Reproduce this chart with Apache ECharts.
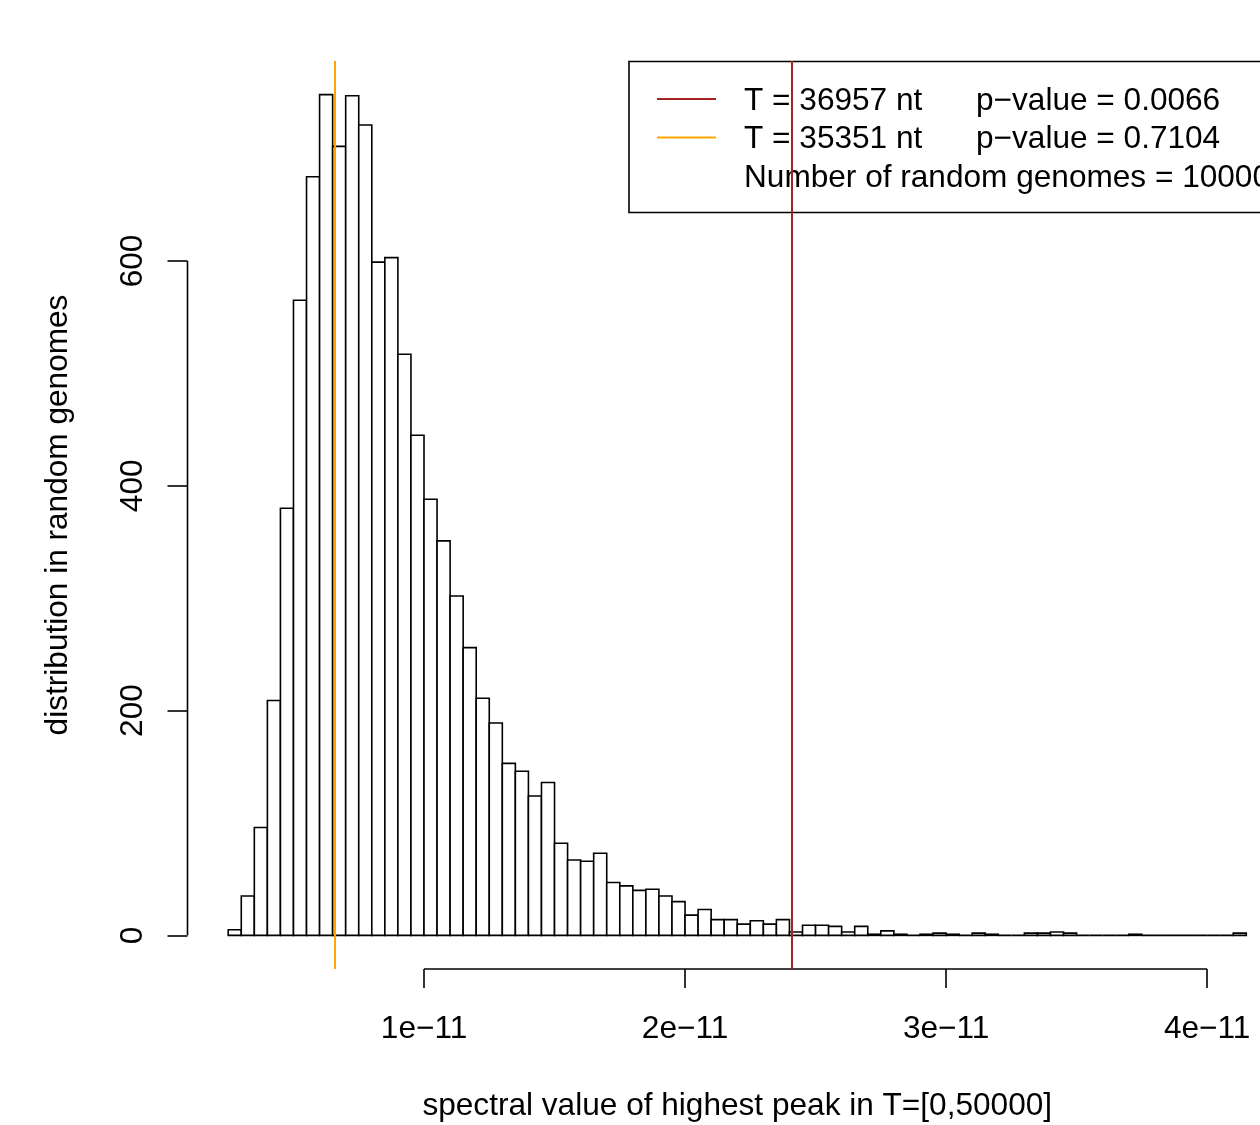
<!DOCTYPE html>
<html>
<head>
<meta charset="utf-8">
<script src="https://cdn.jsdelivr.net/npm/echarts@6/dist/echarts.min.js"></script>
<style>
  html, body { margin: 0; padding: 0; background: #fff; }
  #chart { width: 1260px; height: 1125px; }
</style>
</head>
<body>
<div id="chart"></div>
<script>
// x values are in units of 1e-11
const binStart = 0.25;
const binWidth = 0.05;
const counts = [
  5, 35, 96, 209, 380, 565, 675, 748, 702, 747,
  721, 599, 603, 517, 445, 388, 351, 302, 256, 211,
  189, 153, 146, 124, 136, 82, 67, 66, 73, 47,
  44, 40, 41, 35, 30, 18, 23, 14, 14, 10,
  13, 10, 14, 3, 9, 9, 8, 3, 8, 1,
  4, 1, 0, 1, 2, 1, 0, 2, 1, 0,
  0, 2, 2, 3, 2, 0, 0, 0, 0, 1,
  0, 0, 0, 0, 0, 0, 0, 2
];
const xTickValues = [1, 2, 3, 4];
const xTickLabels = ['1e\u221211', '2e\u221211', '3e\u221211', '4e\u221211'];
const yTickValues = [0, 200, 400, 600];
const redLineX = 2.41;     // T = 36957 nt
const orangeLineX = 0.663; // T = 35351 nt
const legendRows = [
  { color: '#A52222', left: 'T = 36957 nt', right: 'p\u2212value = 0.0066' },
  { color: '#FFA500', left: 'T = 35351 nt', right: 'p\u2212value = 0.7104' },
  { color: null, left: 'Number of random genomes = 10000', right: '' }
];
const xTitle = 'spectral value of highest peak in T=[0,50000]';
const yTitle = 'distribution in random genomes';

const FONT = '"Liberation Sans", Arial, Helvetica, sans-serif';
const FS = 31.6;

// layout of the R plot region (which extends past the right edge of the page)
const gridLeft = 187.5, gridTop = 61, gridHeight = 908;
const fullPlotWidth = 1099.5;
const visibleWidth = 1260 - gridLeft;

// R-style axis range: data range extended by 4%
const binEnd = binStart + binWidth * counts.length;
const xr = binEnd - binStart;
const xMin = binStart - 0.04 * xr;
const xMaxFull = binEnd + 0.04 * xr;
const xMax = xMin + (xMaxFull - xMin) * visibleWidth / fullPlotWidth;
const cMax = Math.max(...counts);
const yMin = -0.04 * cMax;
const yMax = cMax * 1.04;

const histData = counts.map((c, i) => [binStart + i * binWidth, binStart + (i + 1) * binWidth, c]);

const chart = echarts.init(document.getElementById('chart'), null, { renderer: 'canvas' });

const graphics = [
  {
    type: 'rect', z: 0,
    shape: { x: 629, y: 61.5, width: 700, height: 151 },
    style: { fill: '#fff', stroke: '#000', lineWidth: 1.6 }
  }
];
legendRows.forEach((r, i) => {
  const cy = 99 + i * 38.5;
  if (r.color) {
    graphics.push({ type: 'line', z: 1, shape: { x1: 657, y1: cy, x2: 716, y2: cy }, style: { stroke: r.color, lineWidth: 2 } });
  }
  graphics.push({ type: 'text', z: 1, style: { text: r.left, x: 744, y: cy + 2, font: FS + 'px ' + FONT, fill: '#000', align: 'left', verticalAlign: 'middle' } });
  if (r.right) {
    graphics.push({ type: 'text', z: 1, style: { text: r.right, x: 976, y: cy + 2, font: FS + 'px ' + FONT, fill: '#000', align: 'left', verticalAlign: 'middle' } });
  }
});

// shift of the x title so it is centred on the full (clipped) plot region
const titleShift = fullPlotWidth - visibleWidth;

chart.setOption({
  backgroundColor: '#fff',
  animation: false,
  grid: { left: gridLeft, top: gridTop, width: visibleWidth, height: gridHeight, containLabel: false, outerBoundsMode: 'none' },
  xAxis: {
    type: 'value', min: xMin, max: xMax,
    axisLine: { show: false, onZero: false },
    splitLine: { show: false },
    axisTick: { show: true, customValues: xTickValues, length: 19, lineStyle: { color: '#000', width: 1.6 } },
    axisLabel: {
      customValues: xTickValues, margin: 44,
      formatter: v => { const k = xTickValues.findIndex(t => Math.abs(t - v) < 1e-9); return k >= 0 ? xTickLabels[k] : ''; },
      color: '#000', fontSize: FS, fontFamily: FONT
    },
    name: xTitle, nameLocation: 'middle', nameGap: 121,
    nameTextStyle: { color: '#000', fontSize: FS, fontFamily: FONT, padding: [0, 0, 0, titleShift] }
  },
  yAxis: {
    type: 'value', min: yMin, max: yMax,
    axisLine: { show: false, onZero: false },
    splitLine: { show: false },
    axisTick: { show: true, customValues: yTickValues, length: 20, lineStyle: { color: '#000', width: 1.6 } },
    axisLabel: {
      customValues: yTickValues, rotate: 90, margin: 38,
      color: '#000', fontSize: FS, fontFamily: FONT
    },
    name: yTitle, nameLocation: 'middle', nameGap: 113, nameRotate: 90,
    nameTextStyle: { color: '#000', fontSize: FS, fontFamily: FONT }
  },
  graphic: graphics,
  series: [
    {
      type: 'custom',
      data: histData,
      encode: { x: [0, 1], y: 2 },
      renderItem: (params, api) => {
        const x0 = api.value(0), x1 = api.value(1), c = api.value(2);
        const p0 = api.coord([x0, c]);
        const p1 = api.coord([x1, 0]);
        return {
          type: 'rect',
          shape: { x: p0[0], y: p0[1], width: p1[0] - p0[0], height: p1[1] - p0[1] },
          style: { fill: '#fff', stroke: '#000', lineWidth: 1.6 }
        };
      },
      z: 2,
      silent: true
    },
    {
      type: 'line', clip: false, silent: true, symbol: 'none',
      data: [[xTickValues[0], yMin], [xTickValues[xTickValues.length - 1], yMin]],
      lineStyle: { color: '#000', width: 1.6 }, z: 3
    },
    {
      type: 'line', clip: false, silent: true, symbol: 'none',
      data: [[xMin, yTickValues[0]], [xMin, yTickValues[yTickValues.length - 1]]],
      lineStyle: { color: '#000', width: 1.6 }, z: 3
    },
    {
      type: 'line', data: [], silent: true, z: 5,
      markLine: {
        silent: true, symbol: ['none', 'none'], label: { show: false },
        data: [
          { xAxis: orangeLineX, lineStyle: { color: '#FFA500', width: 2, type: 'solid' } },
          { xAxis: redLineX, lineStyle: { color: '#A52222', width: 2, type: 'solid' } }
        ]
      }
    }
  ]
});
</script>
</body>
</html>
